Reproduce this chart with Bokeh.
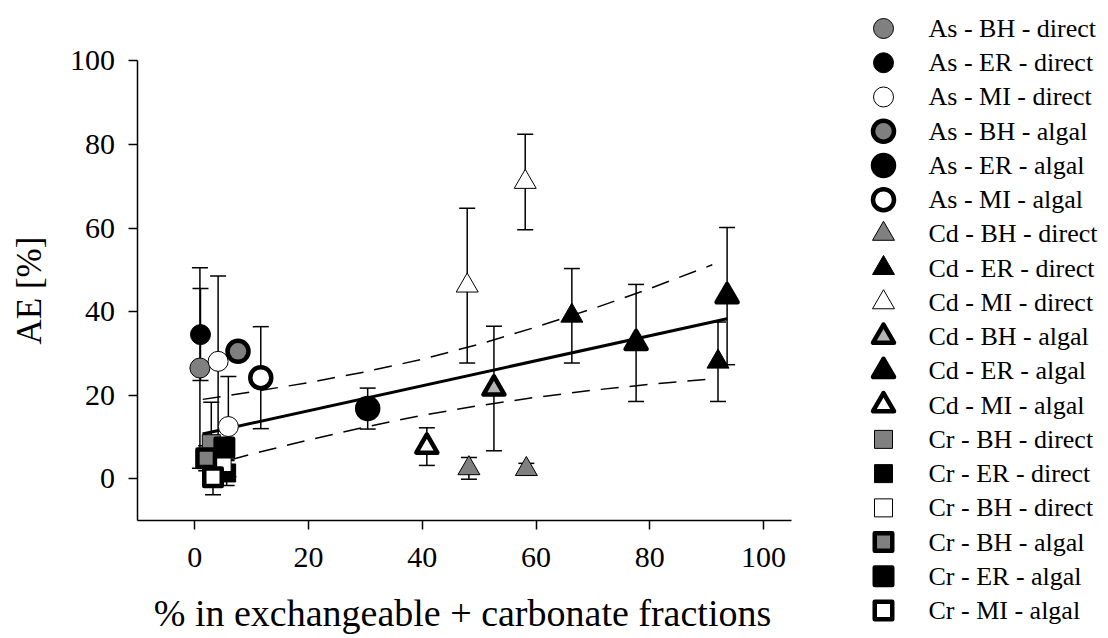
import math

from bokeh.plotting import figure
from bokeh.models import Range1d, FixedTicker, LinearAxis
from bokeh.core.properties import value
from bokeh.embed import file_html
from bokeh.resources import INLINE

FONT = "Liberation Serif"
GRAY = "#808080"
LIGHT_GRAY = "#b4b4b4"

# ---------------------------------------------------------------- data
series_labels = [
    "As - BH - direct", "As - ER - direct", "As - MI - direct",
    "As - BH - algal", "As - ER - algal", "As - MI - algal",
    "Cd - BH - direct", "Cd - ER - direct", "Cd - MI - direct",
    "Cd - BH - algal", "Cd - ER - algal", "Cd - MI - algal",
    "Cr - BH - direct", "Cr - ER - direct", "Cr - BH - direct",
    "Cr - BH - algal", "Cr - ER - algal", "Cr - MI - algal",
]

# % of the metal in exchangeable + carbonate fractions
series_x = [
    [0.9], [1.0], [4.1, 5.9],
    [7.6], [30.4], [11.6],
    [48.2, 58.3], [66.3, 92.0], [47.9, 58.1],
    [52.6], [77.6, 93.6], [40.8],
    [2.9], [5.6], [4.8],
    [2.0], [5.2], [3.2],
]

# assimilation efficiency, AE [%]
series_y = [
    [26.5], [34.5], [28.1, 12.5],
    [30.5], [16.8], [24.2],
    [2.5, 2.3], [39.0, 28.0], [46.2, 71.0],
    [21.6], [32.5, 43.7], [7.7],
    [8.4], [1.4], [3.9],
    [4.9], [7.5], [0.4],
]

# standard deviation of AE
series_err = [
    [24.0], [11.0], [20.4, 12.0],
    [2.0], [4.9], [12.2],
    [2.6, 1.4], [11.3, 9.5], [18.5, 11.4],
    [14.9], [14.0, 16.4], [4.5],
    [9.9], [3.0], [2.0],
    [3.0], [2.0], [4.2],
]

# regression line and its 95 % confidence band
fit_x = [1.35, 93.6]
fit_y = [10.7, 38.3]
band_x = [1.4, 10, 20, 30, 40, 50, 60, 70, 80, 91]
band_upper = [19.0, 20.8, 23.0, 25.6, 28.6, 32.2, 36.3, 40.7, 45.5, 51.2]
band_lower = [2.8, 5.9, 9.3, 12.4, 15.2, 17.5, 19.5, 21.2, 22.6, 23.9]

tick_values = [0, 20, 40, 60, 80, 100]
x_title = "% in exchangeable + carbonate fractions"
y_title = "AE [%]"

# ---------------------------------------------------------------- styles
series_marker = ["circle"] * 6 + ["triangle"] * 6 + ["square"] * 6
series_fill = [
    GRAY, "black", "white", GRAY, "black", "white",
    GRAY, "black", "white", LIGHT_GRAY, "black", "white",
    GRAY, "black", "white", GRAY, "black", "white",
]
series_thick = ([False] * 3 + [True] * 3) * 3

DIRECT_SIZE = {"circle": 20, "triangle": 22, "square": 18}
ALGAL_SIZE = {"circle": 21, "triangle": 21, "square": 17.5}


def marker_style(i):
    m = series_marker[i]
    thick = series_thick[i]
    return dict(
        marker=m,
        size=ALGAL_SIZE[m] if thick else DIRECT_SIZE[m],
        fill_color=series_fill[i],
        line_color="black",
        line_width=4.5 if thick else 1.0,
        line_join="round",
    )


# ---------------------------------------------------------------- canvas
# The plotting frame covers the whole canvas; the axes sit at fixed data
# locations so the legend column on the right can share the same canvas.
W, H = 1108, 638
X_ORIGIN_PX, X_SCALE = 194.3, 5.687     # px of x = 0, px per unit
Y_ORIGIN_PX, Y_SCALE = 478.3, 4.18      # px of y = 0, px per unit

x_start = -X_ORIGIN_PX / X_SCALE
x_end = (W - X_ORIGIN_PX) / X_SCALE
y_end = Y_ORIGIN_PX / Y_SCALE
y_start = (Y_ORIGIN_PX - H) / Y_SCALE


def px_to_x(px):
    return x_start + px / X_SCALE


def px_to_y(py):
    return y_end - py / Y_SCALE


p = figure(
    width=W, height=H,
    x_range=Range1d(x_start, x_end), y_range=Range1d(y_start, y_end),
    output_backend="svg", toolbar_location=None,
    x_axis_location=None, y_axis_location=None,
    min_border=0,
)
p.outline_line_color = None
p.grid.visible = False
p.background_fill_color = "white"
p.border_fill_color = "white"

xaxis = LinearAxis(fixed_location=-10, bounds=(-10, 105))
yaxis = LinearAxis(fixed_location=-10, bounds=(-10, 100))
for ax in (xaxis, yaxis):
    ax.ticker = FixedTicker(ticks=tick_values)
    ax.axis_line_width = 1.5
    ax.axis_line_color = "black"
    ax.major_tick_line_width = 1.5
    ax.major_tick_line_color = "black"
    ax.major_tick_out = 9
    ax.major_tick_in = 0
    ax.minor_tick_line_color = None
    ax.major_label_text_font = FONT
    ax.major_label_text_font_size = "30px"
    ax.major_label_text_color = "black"
xaxis.major_label_standoff = 18
yaxis.major_label_standoff = 14
p.add_layout(xaxis, "below")
p.add_layout(yaxis, "left")

# axis titles
p.text(x=[px_to_x(462)], y=[px_to_y(612)], text=[x_title],
       text_font=value(FONT), text_font_size="38px", text_color="black",
       text_align="center", text_baseline="middle")
p.text(x=[px_to_x(29)], y=[px_to_y(290)], text=[y_title], angle=math.pi / 2,
       text_font=value(FONT), text_font_size="35px", text_color="black",
       text_align="center", text_baseline="middle")

# confidence band and regression line
p.line(band_x, band_upper, line_color="black", line_width=1.5, line_dash="18 11")
p.line(band_x, band_lower, line_color="black", line_width=1.5, line_dash="18 11")
p.line(fit_x, fit_y, line_color="black", line_width=3)

# error bars
for xs, ys, es in zip(series_x, series_y, series_err):
    lo = [y - e for y, e in zip(ys, es)]
    hi = [y + e for y, e in zip(ys, es)]
    p.segment(x0=xs, y0=lo, x1=xs, y1=hi, line_color="black", line_width=1.5)
    p.scatter(x=xs + xs, y=lo + hi, marker="dash", size=16,
              line_color="black", line_width=1.5)

# data points
for i, (xs, ys) in enumerate(zip(series_x, series_y)):
    p.scatter(x=xs, y=ys, **marker_style(i))

# ---------------------------------------------------------------- legend
LEGEND_MARKER_PX = 883
LEGEND_TEXT_PX = 928
LEGEND_TOP_PX = 28
LEGEND_STEP_PX = 34.24

row_y = [px_to_y(LEGEND_TOP_PX + LEGEND_STEP_PX * i) for i in range(len(series_labels))]
for i, ry in enumerate(row_y):
    p.scatter(x=[px_to_x(LEGEND_MARKER_PX)], y=[ry], **marker_style(i))

p.text(
    x=[px_to_x(LEGEND_TEXT_PX)] * len(series_labels), y=row_y, text=series_labels,
    text_font=value(FONT), text_font_size="26px",
    text_baseline="middle", text_align="left", text_color="black",
)

open("out.html", "w").write(file_html(p, INLINE))
